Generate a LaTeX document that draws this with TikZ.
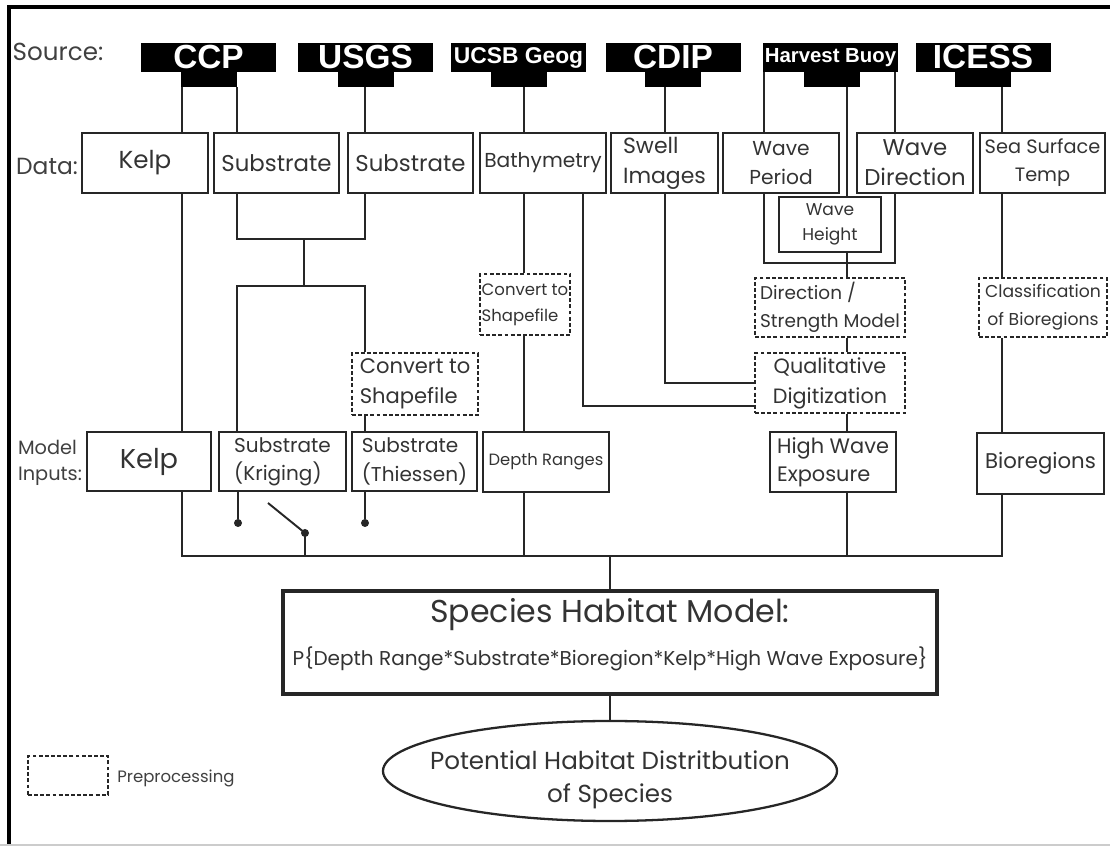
\documentclass[tikz,border=0pt]{standalone}
\usepackage{fontspec}
\setmainfont{Poppins}
\newfontfamily\srcfont{Liberation Sans}
\usetikzlibrary{shapes.geometric}
\newcommand\fsz[2]{\fontsize{#1}{#2}\selectfont}

\begin{document}
\begin{tikzpicture}[x=0.02cm, y=0.02cm,
    wh/.style 2 args={minimum width=#1*0.02cm, minimum height=#2*0.02cm},
    dat/.style={draw=black!85, line width=1.1pt, inner sep=1pt, align=center, text=black!80},
    pre/.style={dat, dash pattern=on 2.2pt off 1.3pt},
    src/.style={fill=black, text=white, inner sep=0pt, wh={135}{29}, font=\srcfont\bfseries\fsz{19}{19}},
    tab/.style={fill=black, inner sep=0pt, wh={56}{15}},
    wire/.style={draw=black!85, line width=1.1pt},
    dot/.style={circle, fill=black!85, inner sep=0pt, minimum size=8*0.02cm},
    lbl/.style={text=black!75, align=left, inner sep=0pt}]
  \useasboundingbox (0,0) rectangle (1110,846);
  \draw[line width=2.3pt] (8.6,0) -- (8.6,839) -- (1110,839);
  \draw[black!20, line width=0.8pt] (0,1) -- (1110,1);

  % row labels
  \node[lbl, font=\fsz{14}{16}] (srcL) at (58,794) {Source:};
  \node[lbl, font=\fsz{13.3}{16}] (datL) at (47,680) {Data:};
  \node[lbl, font=\fsz{11}{15}] (modL) at (50,383) {Model\\Inputs:};

  % sources
  \node[src] (ccp) at (208.5,788.5) {CCP};
  \node[tab] (ccpT) at (209,766.5) {};
  \node[src] (usgs) at (365.5,788.5) {USGS};
  \node[tab] (usgsT) at (366,766.5) {};
  \node[src, font=\srcfont\bfseries\fsz{13}{13}] (ucsb) at (518.5,788.5) {UCSB Geog};
  \node[tab] (ucsbT) at (518.5,766.5) {};
  \node[src] (cdip) at (673,788.5) {CDIP};
  \node[tab] (cdipT) at (673,766.5) {};
  \node[src, font=\srcfont\bfseries\fsz{11.6}{12}] (harv) at (830.5,788.5) {Harvest Buoy};
  \node[tab] (harvT) at (831.5,766.5) {};
  \node[src] (icess) at (983,788.5) {ICESS};
  \node[tab] (icessT) at (983,766.5) {};

  % data
  \node[dat, wh={126}{60}, font=\fsz{14}{18}] (kelpD) at (145,683) {Kelp};
  \node[dat, wh={125}{60}, font=\fsz{13}{16}] (sub1D) at (276.5,683) {Substrate};
  \node[dat, wh={125}{60}, font=\fsz{13}{16}] (sub2D) at (410.5,683) {Substrate};
  \node[dat, wh={126}{60}, font=\fsz{11.5}{14}] (bathyD) at (543,683) {Bathymetry};
  \node[dat, wh={107}{60}, font=\fsz{12.5}{17}, align=left] (swellD) at (664.5,683) {Swell\\Images};
  \node[dat, wh={116}{60}, font=\fsz{11.5}{17}] (periodD) at (781,683) {Wave\\Period};
  \node[dat, wh={116}{60}, font=\fsz{13}{17}] (dirD) at (915,683) {Wave\\Direction};
  \node[dat, wh={125}{60}, font=\fsz{11}{16}] (sstD) at (1042.5,683) {Sea Surface\\Temp};
  \node[dat, line width=1.5pt, wh={102}{55}, font=\fsz{9.7}{14}] (height) at (830,621.5) {Wave\\Height};

  % preprocessing
  \node[pre, wh={86}{61}, font=\fsz{9.4}{15}, align=left] (conv2) at (525,541.5) {Convert to\\Shapefile};
  \node[pre, wh={126}{62}, font=\fsz{12}{17}, align=left] (conv1) at (415,462) {Convert to\\Shapefile};
  \node[pre, wh={150}{59}, font=\fsz{10.5}{16}, align=left] (dstr) at (830,538.5) {Direction /\\Strength Model};
  \node[pre, wh={150}{60}, font=\fsz{11.8}{17}] (qual) at (830,463) {Qualitative\\Digitization};
  \node[pre, wh={128}{59}, font=\fsz{9.8}{16}] (cls) at (1043,538.5) {Classification\\of Bioregions};

  % model inputs
  \node[dat, wh={124}{59}, font=\fsz{15.5}{18}] (kelpM) at (149,384.5) {Kelp};
  \node[dat, wh={127}{59}, font=\fsz{11.4}{16}, align=left] (krigM) at (282.5,384.5) {Substrate\\(Kriging)};
  \node[dat, wh={125}{59}, font=\fsz{11.4}{16}, align=left] (thiesM) at (414.5,384.5) {Substrate\\(Thiessen)};
  \node[dat, wh={126}{60}, font=\fsz{9.3}{12}] (depthM) at (546,384) {Depth Ranges};
  \node[dat, wh={126}{60}, font=\fsz{11.9}{16}, align=left] (waveM) at (833,384) {High Wave\\Exposure};
  \node[dat, wh={127}{61}, font=\fsz{12.1}{15}] (bioM) at (1040.5,382.5) {Bioregions};

  % model and result
  \node[dat, line width=2pt, wh={654}{103}, font=\fsz{18}{21}, text depth=12pt] (shm) at (610,203.5)
    {Species Habitat Model:\\[3pt]{\fsz{11.4}{14}P\{Depth Range*Substrate*Bioregion*Kelp*High Wave Exposure\}}};
  \node[draw=black!85, line width=1.3pt, ellipse, wh={454}{100}, inner sep=0pt,
    label={[align=center, text=black!80, font=\fsz{14}{19}, yshift=-0.18cm]center:Potential Habitat Distritbution\\of Species}] (pot) at (610,75) {};

  % legend
  \node[pre, wh={80}{39}] (leg) at (68,70.5) {};
  \node[lbl, anchor=west, font=\fsz{9.4}{12}] (legT) at (117,68) {Preprocessing};

  % rails
  \coordinate (rK) at (182,0);
  \coordinate (rS) at (237,0);
  \coordinate (rM) at (304,0);
  \coordinate (rU) at (365,0);
  \coordinate (rB) at (524,0);
  \coordinate (rQ) at (583,440);
  \coordinate (rC) at (665,0);
  \coordinate (rP) at (764,0);
  \coordinate (rH) at (847,0);
  \coordinate (rD) at (895,0);
  \coordinate (rI) at (1002,0);
  \coordinate (mg) at (0,607);
  \coordinate (sp) at (0,560);
  \coordinate (ub) at (0,583);
  \coordinate (bus) at (0,290);

  % sources to data
  \draw[wire] (ccpT.south -| rK) -- (kelpD.north -| rK);
  \draw[wire] (ccpT.south -| rS) -- (sub1D.north -| rS);
  \draw[wire] (usgsT.south -| rU) -- (sub2D.north -| rU);
  \draw[wire] (ucsbT.south -| rB) -- (bathyD.north -| rB);
  \draw[wire] (cdipT.south -| rC) -- (swellD.north -| rC);
  \draw[wire] (harv.south -| rP) -- (periodD.north -| rP);
  \draw[wire] (harvT.south -| rH) -- (height.north -| rH);
  \draw[wire] (harv.south -| rD) -- (dirD.north -| rD);
  \draw[wire] (icessT.south -| rI) -- (sstD.north -| rI);

  % kelp
  \draw[wire] (kelpD.south -| rK) -- (kelpM.north -| rK);

  % substrate
  \draw[wire] (sub1D.south -| rS) -- (rS |- mg) -- (rU |- mg) -- (sub2D.south -| rU);
  \draw[wire] (rM |- mg) -- (rM |- sp);
  \draw[wire] (krigM.north -| rS) -- (rS |- sp) -- (rU |- sp) -- (conv1.north -| rU);
  \draw[wire] (conv1.south -| rU) -- (thiesM.north -| rU);

  % bathymetry
  \draw[wire] (bathyD.south -| rB) -- (conv2.north -| rB);
  \draw[wire] (conv2.south -| rB) -- (depthM.north -| rB);
  \draw[wire] (bathyD.south -| rQ) |- (qual.west |- rQ);

  % waves
  \draw[wire] (swellD.south -| rC) |- (qual.west);
  \draw[wire] (periodD.south -| rP) -- (rP |- ub) -- (rD |- ub) -- (dirD.south -| rD);
  \draw[wire] (height.south -| rH) -- (dstr.north -| rH);
  \draw[wire] (dstr.south -| rH) -- (qual.north -| rH);
  \draw[wire] (qual.south -| rH) -- (waveM.north -| rH);

  % sea surface
  \draw[wire] (sstD.south -| rI) -- (cls.north -| rI);
  \draw[wire] (cls.south -| rI) -- (bioM.north -| rI);

  % switch
  \node[dot] (swK) at (238,323) {};
  \node[dot] (swT) at (365,323) {};
  \node[dot] (swP) at (305,313) {};
  \coordinate (swA) at (268,343);
  \draw[wire] (krigM.south -| swK) -- (swK);
  \draw[wire] (thiesM.south -| swT) -- (swT);
  \draw[wire] (swA) -- (swP.center) -- (swP |- bus);

  % bus
  \draw[wire] (kelpM.south -| rK) -- (rK |- bus) -- (rI |- bus) -- (bioM.south -| rI);
  \draw[wire] (depthM.south -| rB) -- (rB |- bus);
  \draw[wire] (waveM.south -| rH) -- (rH |- bus);
  \draw[wire] (shm.north |- bus) -- (shm.north);
  \draw[wire] (shm.south) -- (pot.north);
\end{tikzpicture}
\end{document}
